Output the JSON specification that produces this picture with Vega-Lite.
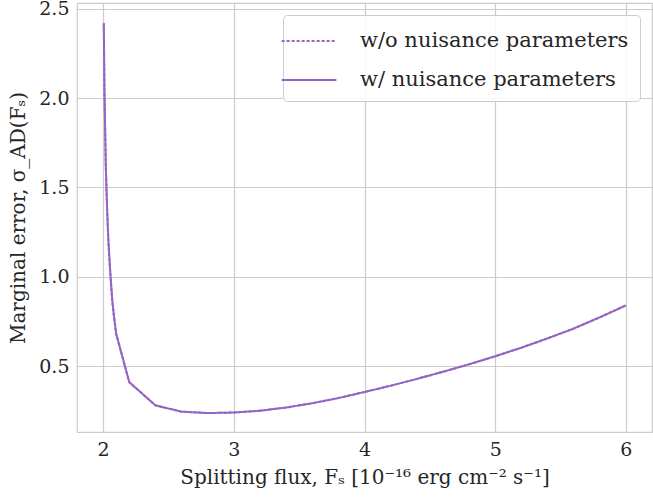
{
  "$schema": "https://vega.github.io/schema/vega-lite/v6.json",
  "width": 575,
  "height": 429,
  "autosize": {"type": "none"},
  "padding": {"left": 77, "top": 3, "right": 1, "bottom": 70},
  "background": "white",
  "config": {
    "font": "DejaVu Serif",
    "view": {"stroke": "#cccccc", "strokeWidth": 1.2},
    "axis": {
      "grid": true,
      "gridColor": "#cccccc",
      "gridWidth": 1.2,
      "domain": false,
      "ticks": false,
      "labelFont": "DejaVu Serif",
      "labelFontSize": 19,
      "labelColor": "#262626",
      "titleFont": "DejaVu Serif",
      "titleFontSize": 20,
      "titleFontWeight": "normal",
      "titleColor": "#262626"
    },
    "legend": {
      "labelFont": "DejaVu Serif",
      "labelFontSize": 21,
      "labelColor": "#262626",
      "labelLimit": 400
    }
  },
  "data": {
    "values": [
      {"x": 2.005, "y": 2.42, "s": "w/o nuisance parameters"},
      {"x": 2.01, "y": 2.05, "s": "w/o nuisance parameters"},
      {"x": 2.02, "y": 1.62, "s": "w/o nuisance parameters"},
      {"x": 2.03, "y": 1.38, "s": "w/o nuisance parameters"},
      {"x": 2.04, "y": 1.2, "s": "w/o nuisance parameters"},
      {"x": 2.05, "y": 1.07, "s": "w/o nuisance parameters"},
      {"x": 2.06, "y": 0.96, "s": "w/o nuisance parameters"},
      {"x": 2.07, "y": 0.86, "s": "w/o nuisance parameters"},
      {"x": 2.08, "y": 0.79, "s": "w/o nuisance parameters"},
      {"x": 2.1, "y": 0.68, "s": "w/o nuisance parameters"},
      {"x": 2.2, "y": 0.41, "s": "w/o nuisance parameters"},
      {"x": 2.4, "y": 0.28, "s": "w/o nuisance parameters"},
      {"x": 2.6, "y": 0.245, "s": "w/o nuisance parameters"},
      {"x": 2.8, "y": 0.237, "s": "w/o nuisance parameters"},
      {"x": 3.0, "y": 0.24, "s": "w/o nuisance parameters"},
      {"x": 3.2, "y": 0.25, "s": "w/o nuisance parameters"},
      {"x": 3.4, "y": 0.268, "s": "w/o nuisance parameters"},
      {"x": 3.6, "y": 0.292, "s": "w/o nuisance parameters"},
      {"x": 3.8, "y": 0.321, "s": "w/o nuisance parameters"},
      {"x": 4.0, "y": 0.355, "s": "w/o nuisance parameters"},
      {"x": 4.2, "y": 0.39, "s": "w/o nuisance parameters"},
      {"x": 4.4, "y": 0.428, "s": "w/o nuisance parameters"},
      {"x": 4.6, "y": 0.468, "s": "w/o nuisance parameters"},
      {"x": 4.8, "y": 0.51, "s": "w/o nuisance parameters"},
      {"x": 5.0, "y": 0.555, "s": "w/o nuisance parameters"},
      {"x": 5.2, "y": 0.603, "s": "w/o nuisance parameters"},
      {"x": 5.4, "y": 0.655, "s": "w/o nuisance parameters"},
      {"x": 5.6, "y": 0.71, "s": "w/o nuisance parameters"},
      {"x": 5.8, "y": 0.773, "s": "w/o nuisance parameters"},
      {"x": 6.0, "y": 0.84, "s": "w/o nuisance parameters"},
      {"x": 2.005, "y": 2.42, "s": "w/ nuisance parameters"},
      {"x": 2.01, "y": 2.05, "s": "w/ nuisance parameters"},
      {"x": 2.02, "y": 1.63, "s": "w/ nuisance parameters"},
      {"x": 2.03, "y": 1.39, "s": "w/ nuisance parameters"},
      {"x": 2.04, "y": 1.21, "s": "w/ nuisance parameters"},
      {"x": 2.05, "y": 1.08, "s": "w/ nuisance parameters"},
      {"x": 2.06, "y": 0.97, "s": "w/ nuisance parameters"},
      {"x": 2.07, "y": 0.87, "s": "w/ nuisance parameters"},
      {"x": 2.08, "y": 0.8, "s": "w/ nuisance parameters"},
      {"x": 2.1, "y": 0.68, "s": "w/ nuisance parameters"},
      {"x": 2.2, "y": 0.41, "s": "w/ nuisance parameters"},
      {"x": 2.4, "y": 0.28, "s": "w/ nuisance parameters"},
      {"x": 2.6, "y": 0.245, "s": "w/ nuisance parameters"},
      {"x": 2.8, "y": 0.237, "s": "w/ nuisance parameters"},
      {"x": 3.0, "y": 0.24, "s": "w/ nuisance parameters"},
      {"x": 3.2, "y": 0.25, "s": "w/ nuisance parameters"},
      {"x": 3.4, "y": 0.268, "s": "w/ nuisance parameters"},
      {"x": 3.6, "y": 0.292, "s": "w/ nuisance parameters"},
      {"x": 3.8, "y": 0.321, "s": "w/ nuisance parameters"},
      {"x": 4.0, "y": 0.355, "s": "w/ nuisance parameters"},
      {"x": 4.2, "y": 0.39, "s": "w/ nuisance parameters"},
      {"x": 4.4, "y": 0.428, "s": "w/ nuisance parameters"},
      {"x": 4.6, "y": 0.468, "s": "w/ nuisance parameters"},
      {"x": 4.8, "y": 0.51, "s": "w/ nuisance parameters"},
      {"x": 5.0, "y": 0.555, "s": "w/ nuisance parameters"},
      {"x": 5.2, "y": 0.603, "s": "w/ nuisance parameters"},
      {"x": 5.4, "y": 0.655, "s": "w/ nuisance parameters"},
      {"x": 5.6, "y": 0.71, "s": "w/ nuisance parameters"},
      {"x": 5.8, "y": 0.773, "s": "w/ nuisance parameters"},
      {"x": 6.0, "y": 0.84, "s": "w/ nuisance parameters"}
    ]
  },
  "mark": {"type": "line", "color": "#9565c5", "strokeWidth": 2},
  "encoding": {
    "x": {
      "field": "x",
      "type": "quantitative",
      "scale": {"domain": [1.8, 6.2], "nice": false, "zero": false},
      "axis": {"values": [2, 3, 4, 5, 6], "format": "d", "labelPadding": 8, "titlePadding": 8,
        "title": "Splitting flux, Fₛ [10⁻¹⁶ erg cm⁻² s⁻¹]"}
    },
    "y": {
      "field": "y",
      "type": "quantitative",
      "scale": {"domain": [0.131, 2.533], "nice": false, "zero": false},
      "axis": {"values": [0.5, 1.0, 1.5, 2.0, 2.5], "format": ".1f", "labelPadding": 8, "titlePadding": 10,
        "title": "Marginal error, σ_AD(Fₛ)",
        "encode": {"labels": {"update": {"dy": {"signal": "datum.value == 2.5 ? 2 : 0"}}}}}
    },
    "strokeDash": {
      "field": "s",
      "type": "nominal",
      "scale": {"domain": ["w/o nuisance parameters", "w/ nuisance parameters"], "range": [[3, 2], [1, 0]]},
      "legend": {
        "title": null,
        "orient": "top-right",
        "offsetY": 14,
        "offset": 12,
        "symbolType": "M-2,0H2",
        "symbolStrokeColor": "#9565c5",
        "symbolStrokeWidth": 2,
        "symbolSize": 750,
        "labelOffset": 36,
        "rowPadding": 14,
        "padding": 11,
        "fillColor": "rgba(255,255,255,0.85)",
        "strokeColor": "#cccccc",
        "cornerRadius": 4
      }
    }
  }
}
